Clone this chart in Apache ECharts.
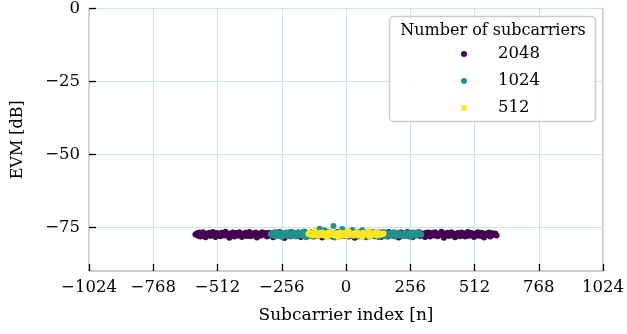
<!DOCTYPE html>
<html>
<head>
<meta charset="utf-8">
<script src="https://cdn.jsdelivr.net/npm/echarts@6/dist/echarts.min.js"></script>
<style>
html,body{margin:0;padding:0;background:#fff;}
#chart{width:627px;height:334px;}
</style>
</head>
<body>
<div id="chart"></div>
<script>
// ---- data ----
const seriesNames = ['2048', '1024', '512'];
const xTicks = [-1024, -768, -512, -256, 0, 256, 512, 768, 1024];
const yTicks = [-75, -50, -25, 0];

const idx2048 = [-600,-595,-590,-585,-580,-575,-570,-565,-560,-555,-550,-545,-540,-535,-530,-525,-520,-515,-510,-505,
-500,-495,-490,-485,-480,-475,-470,-465,-460,-455,-450,-445,-440,-435,-430,-425,-420,-415,-410,-405,
-400,-395,-390,-385,-380,-375,-370,-365,-360,-355,-350,-345,-340,-335,-330,-325,-320,-315,-310,-305,
-300,-295,-290,-285,-280,-275,-270,-265,-260,-255,-250,-245,-240,-235,-230,-225,-220,-215,-210,-205,
-200,-195,-190,-185,-180,-175,-170,-165,-160,-155,-150,-145,-140,-135,-130,-125,-120,-115,-110,-105,
-100,-95,-90,-85,-80,-75,-70,-65,-60,-55,-50,-45,-40,-35,-30,-25,-20,-15,-10,-5,
0,5,10,15,20,25,30,35,40,45,50,55,60,65,70,75,80,85,90,95,
100,105,110,115,120,125,130,135,140,145,150,155,160,165,170,175,180,185,190,195,
200,205,210,215,220,225,230,235,240,245,250,255,260,265,270,275,280,285,290,295,
300,305,310,315,320,325,330,335,340,345,350,355,360,365,370,375,380,385,390,395,
400,405,410,415,420,425,430,435,440,445,450,455,460,465,470,475,480,485,490,495,
500,505,510,515,520,525,530,535,540,545,550,555,560,565,570,575,580,585,590,595,600];
const evm2048 = [-77.5,-77.1,-77.9,-76.8,-78.2,-77.3,-76.7,-77.7,-78.4,-77.2,-77.6,-76.9,-78.0,-77.4,-76.6,-77.8,-78.3,-77.0,-77.5,-77.2,
-78.1,-76.9,-77.3,-77.7,-76.5,-77.9,-77.4,-78.6,-77.1,-77.6,-76.8,-78.2,-77.3,-77.0,-77.8,-76.7,-77.5,-78.3,-77.2,-77.7,
-76.9,-78.0,-77.4,-76.6,-78.1,-77.3,-77.1,-77.8,-76.8,-78.5,-77.5,-77.2,-77.9,-76.7,-77.6,-77.3,-77.0,-78.2,-77.4,-76.9,
-77.7,-77.1,-78.4,-77.5,-76.8,-77.9,-77.3,-76.6,-78.0,-77.2,-77.6,-78.7,-77.0,-77.4,-77.8,-76.9,-78.1,-76.7,-77.5,-77.3,
-77.1,-77.9,-76.8,-77.6,-78.3,-77.2,-77.4,-76.5,-77.8,-78.1,-77.0,-77.3,-77.7,-76.8,-78.2,-77.1,-77.5,-76.7,-77.9,-77.4,
-77.2,-78.5,-77.6,-76.9,-77.3,-78.0,-76.7,-77.8,-77.1,-77.5,-78.3,-77.0,-77.7,-76.6,-77.4,-78.1,-77.2,-77.6,-76.8,-77.9,
-77.3,-77.0,-78.2,-77.5,-76.7,-77.8,-77.1,-78.6,-77.4,-76.9,-77.7,-77.3,-76.5,-78.0,-77.2,-77.6,-78.4,-76.8,-77.5,-77.1,
-77.9,-77.3,-76.7,-78.1,-77.0,-77.6,-77.4,-76.8,-78.3,-77.2,-77.8,-76.9,-77.5,-78.2,-76.6,-77.7,-77.1,-77.3,-78.0,-76.9,
-77.6,-77.2,-78.5,-77.4,-76.8,-77.9,-77.1,-77.7,-77.3,-76.6,-78.1,-77.0,-77.5,-78.4,-76.9,-77.8,-77.2,-77.4,-76.7,-78.0,
-77.3,-77.1,-77.7,-78.3,-76.9,-77.5,-76.8,-78.2,-77.4,-77.0,-77.8,-76.7,-77.6,-78.1,-77.2,-77.3,-76.5,-77.9,-78.6,-77.1,
-77.5,-76.9,-78.0,-77.3,-76.7,-77.8,-77.2,-78.4,-77.6,-77.0,-77.4,-78.1,-76.8,-77.7,-77.1,-78.2,-77.3,-76.6,-77.9,-77.5,
-77.0,-77.6,-78.3,-77.2,-77.8,-76.7,-77.4,-78.0,-76.9,-77.5,-78.5,-77.1,-77.7,-77.3,-76.8,-78.2,-77.0,-77.6,-77.4,-77.1,-77.8];

const idx1024 = [-300,-295,-290,-285,-280,-275,-270,-265,-260,-255,-250,-245,-240,-235,-230,-225,-220,-215,-210,-205,
-200,-195,-190,-185,-180,-175,-170,-165,-160,-155,-150,-145,-140,-135,-130,-125,-120,-115,-110,-105,
-100,-95,-90,-85,-80,-75,-70,-65,-60,-55,-50,-45,-40,-35,-30,-25,-20,-15,-10,-5,
0,5,10,15,20,25,30,35,40,45,50,55,60,65,70,75,80,85,90,95,
100,105,110,115,120,125,130,135,140,145,150,155,160,165,170,175,180,185,190,195,
200,205,210,215,220,225,230,235,240,245,250,255,260,265,270,275,280,285,290,295,300];
const evm1024 = [-77.4,-77.0,-77.8,-76.7,-78.1,-77.2,-77.5,-76.9,-77.7,-78.3,-77.1,-77.6,-76.8,-77.9,-77.3,-76.6,-78.0,-77.2,-77.5,-76.9,
-78.2,-77.3,-76.8,-77.7,-77.1,-77.9,-76.5,-77.6,-78.4,-77.0,-77.4,-77.8,-76.7,-78.1,-77.2,-77.5,-76.9,-77.3,-78.0,-75.5,
-77.6,-77.1,-77.9,-76.0,-77.4,-77.0,-78.2,-77.5,-76.7,-77.8,-74.6,-78.5,-77.3,-76.9,-77.7,-76.6,-78.0,-75.6,-77.1,-77.6,
-76.8,-78.1,-77.3,-77.0,-77.7,-75.9,-77.2,-77.9,-77.5,-76.7,-78.2,-77.1,-77.4,-76.0,-77.8,-76.9,-77.6,-78.3,-77.0,-77.5,
-76.7,-78.0,-77.3,-77.1,-77.7,-76.8,-78.4,-77.5,-77.2,-77.9,-76.6,-77.4,-78.1,-77.0,-77.6,-76.9,-77.8,-77.3,-76.7,-78.2,
-77.1,-77.5,-76.8,-77.9,-77.3,-77.2,-77.7,-76.9,-78.1,-77.4,-77.0,-77.6,-78.3,-76.8,-77.5,-77.2,-77.8,-76.7,-77.3,-77.1,-77.6];

const idx512 = [-150,-145,-140,-135,-130,-125,-120,-115,-110,-105,-100,-95,-90,-85,-80,-75,-70,-65,-60,-55,
-50,-45,-40,-35,-30,-25,-20,-15,-10,-5,0,5,10,15,20,25,30,35,40,45,
50,55,60,65,70,75,80,85,90,95,100,105,110,115,120,125,130,135,140,145,150];
const evm512 = [-77.3,-76.9,-77.6,-77.1,-77.8,-76.3,-77.4,-77.2,-77.9,-77.0,-77.5,-76.8,-77.7,-77.3,-77.1,-78.4,-76.9,-77.4,-76.6,-77.6,
-77.2,-77.8,-77.0,-77.5,-78.5,-76.8,-77.3,-77.1,-77.7,-76.9,-77.4,-77.9,-76.4,-77.6,-77.2,-77.3,-77.8,-77.0,-77.5,-76.8,
-77.7,-77.1,-77.4,-78.4,-76.9,-77.3,-77.2,-77.6,-76.3,-78.3,-77.4,-77.1,-77.5,-76.8,-77.8,-77.3,-77.0,-77.6,-77.2,-77.4,-77.1];

const colors = ['#440154', '#21918c', '#fde725'];

// ---- chart ----
const FONT = 'DejaVu Serif';
const fmt = v => String(v).replace('-', '\u2212');
const zip = (xs, ys) => xs.map((x, i) => [x, ys[i]]);
const chart = echarts.init(document.getElementById('chart'), null, {renderer: 'canvas'});

chart.setOption({
  animation: false,
  backgroundColor: '#fff',
  grid: {left: 89, right: 23, top: 7, bottom: 63, show: true, borderColor: '#9a9a9a', borderWidth: 1, backgroundColor: 'transparent'},
  xAxis: {
    type: 'value', min: xTicks[0], max: xTicks[xTicks.length - 1], interval: 256,
    name: 'Subcarrier index [n]', nameLocation: 'middle', nameGap: 36,
    nameTextStyle: {fontFamily: FONT, fontSize: 17, color: '#000'},
    axisLine: {show: false, onZero: false},
    axisTick: {show: true, inside: true, length: 7, lineStyle: {color: '#000', width: 1.3}},
    axisLabel: {formatter: fmt, fontFamily: FONT, fontSize: 16.5, color: '#000', margin: 8},
    splitLine: {show: true, lineStyle: {color: '#cde3e5', width: 1}}
  },
  yAxis: {
    type: 'value', min: -90, max: 0,
    name: 'EVM [dB]', nameLocation: 'middle', nameGap: 63,
    nameTextStyle: {fontFamily: FONT, fontSize: 16, color: '#000'},
    axisLine: {show: false, onZero: false},
    axisTick: {show: true, inside: true, length: 7, customValues: yTicks, lineStyle: {color: '#000', width: 1.3}},
    axisLabel: {formatter: fmt, customValues: yTicks, fontFamily: FONT, fontSize: 16.5, color: '#000', margin: 9},
    splitLine: {show: true, lineStyle: {color: '#cde3e5', width: 1}}
  },
  legend: {
    orient: 'vertical', left: 461, top: 44, padding: 0, z: 5,
    itemWidth: 6, itemHeight: 6, itemGap: 7,
    icon: 'circle',
    data: seriesNames,
    textStyle: {fontFamily: FONT, fontSize: 16.5, color: '#000', lineHeight: 20, padding: [0, 0, 0, 26]}
  },
  graphic: [
    {type: 'rect', z: 3, shape: {x: 389.5, y: 16.5, width: 206, height: 105, r: 4},
     style: {fill: 'rgba(255,255,255,0.85)', stroke: '#cccccc', lineWidth: 1.5}},
    {type: 'text', z: 4, x: 493, y: 31,
     style: {text: 'Number of subcarriers', font: '16px "DejaVu Serif"', fill: '#000', align: 'center', verticalAlign: 'middle'}}
  ],
  series: [
    {name: seriesNames[0], type: 'scatter', symbolSize: 6, itemStyle: {color: colors[0], opacity: 1}, data: zip(idx2048, evm2048)},
    {name: seriesNames[1], type: 'scatter', symbolSize: 6, itemStyle: {color: colors[1], opacity: 1}, data: zip(idx1024, evm1024)},
    {name: seriesNames[2], type: 'scatter', symbolSize: 6, itemStyle: {color: colors[2], opacity: 1}, data: zip(idx512, evm512)}
  ]
});
</script>
</body>
</html>
